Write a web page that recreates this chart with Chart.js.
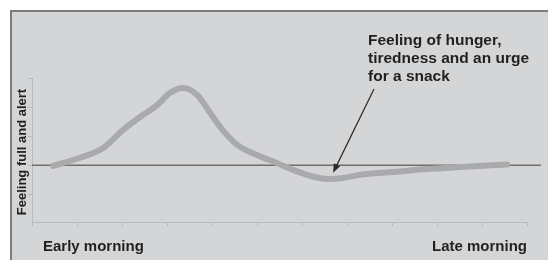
<!DOCTYPE html>
<html>
<head>
<meta charset="utf-8">
<script src="https://cdn.jsdelivr.net/npm/chart.js@4"></script>
<style>
  html, body { margin: 0; padding: 0; background: #fff; }
  #wrap { width: 548px; height: 260px; }
</style>
</head>
<body>
<div id="wrap"><canvas id="hungerChart" width="548" height="260"></canvas></div>
<script>
// данные кривой (x — время, y — самочувствие)
const timeX = [0.47, 0.91, 1.58, 2.02, 2.4, 2.78, 3.07, 3.36, 3.67, 3.96, 4.24, 4.56, 5.0, 5.44, 5.8, 6.56, 6.91, 7.29, 8.02, 8.78, 9.51, 10.56];
const feelingY = [-0.02, 0.18, 0.59, 1.21, 1.66, 2.07, 2.49, 2.66, 2.42, 1.8, 1.21, 0.7, 0.35, 0.08, -0.16, -0.47, -0.44, -0.33, -0.23, -0.13, -0.06, 0.03];

const yTitle = "Feeling full and alert";
const xStartLabel = "Early morning";
const xEndLabel = "Late morning";
const noteLines = ["Feeling of hunger,", "tiredness and an urge", "for a snack"];

// стрелка: откуда и куда (в единицах осей)
const arrowFrom = [7.6, 2.62];
const arrowTo = [6.69, -0.26];

const points = timeX.map((x, i) => ({ x, y: feelingY[i] }));

Chart.defaults.font.family = "'Liberation Sans', Arial, sans-serif";

const textColor = "#231f20";

// фон панели, нулевая линия, подписи и стрелка
const decorPlugin = {
  id: "decor",
  beforeDraw(chart) {
    const ctx = chart.ctx;
    ctx.save();
    ctx.fillStyle = "#fff";
    ctx.fillRect(0, 0, chart.width, chart.height);
    ctx.fillStyle = "#d4d5d7";
    ctx.fillRect(11, 11, chart.width - 11, chart.height - 11);
    ctx.strokeStyle = "#7d7d7d";
    ctx.lineWidth = 2;
    ctx.beginPath();
    ctx.moveTo(11, chart.height);
    ctx.lineTo(11, 11);
    ctx.lineTo(chart.width, 11);
    ctx.stroke();
    ctx.restore();
  },
  beforeDatasetsDraw(chart) {
    const ctx = chart.ctx;
    const y0 = chart.scales.y.getPixelForValue(0);
    ctx.save();
    ctx.strokeStyle = "#6f6f6f";
    ctx.lineWidth = 1.5;
    ctx.beginPath();
    ctx.moveTo(chart.chartArea.left, y0);
    ctx.lineTo(541, y0);
    ctx.stroke();
    ctx.restore();
  },
  afterDraw(chart) {
    const ctx = chart.ctx;
    const { left, right } = chart.chartArea;
    const xs = chart.scales.x;
    const ys = chart.scales.y;
    ctx.save();
    ctx.fillStyle = textColor;

    // подпись оси Y
    ctx.font = "bold 13px 'Liberation Sans', Arial, sans-serif";
    ctx.translate(22, 152);
    ctx.rotate(-Math.PI / 2);
    ctx.textAlign = "center";
    ctx.textBaseline = "middle";
    ctx.fillText(yTitle, 0, 0);
    ctx.setTransform(1, 0, 0, 1, 0, 0);

    // подписи оси X
    ctx.font = "bold 15px 'Liberation Sans', Arial, sans-serif";
    ctx.textBaseline = "alphabetic";
    ctx.textAlign = "left";
    ctx.fillText(xStartLabel, left + 11, 251);
    ctx.textAlign = "right";
    ctx.fillText(xEndLabel, right, 251);

    // текст пояснения
    ctx.font = "bold 15.5px 'Liberation Sans', Arial, sans-serif";
    ctx.textAlign = "left";
    noteLines.forEach((line, i) => {
      ctx.fillText(line, 368, 45 + i * 18);
    });

    // стрелка
    const x1 = xs.getPixelForValue(arrowFrom[0]);
    const y1 = ys.getPixelForValue(arrowFrom[1]);
    const x2 = xs.getPixelForValue(arrowTo[0]);
    const y2 = ys.getPixelForValue(arrowTo[1]);
    const ang = Math.atan2(y2 - y1, x2 - x1);
    const len = 9;
    const half = 3.5;
    ctx.strokeStyle = "#2a2a2a";
    ctx.lineWidth = 1.2;
    ctx.beginPath();
    ctx.moveTo(x1, y1);
    ctx.lineTo(x2 - Math.cos(ang) * len * 0.8, y2 - Math.sin(ang) * len * 0.8);
    ctx.stroke();
    ctx.fillStyle = "#2a2a2a";
    ctx.beginPath();
    ctx.moveTo(x2, y2);
    ctx.lineTo(x2 - Math.cos(ang) * len + Math.sin(ang) * half, y2 - Math.sin(ang) * len - Math.cos(ang) * half);
    ctx.lineTo(x2 - Math.cos(ang) * len - Math.sin(ang) * half, y2 - Math.sin(ang) * len + Math.cos(ang) * half);
    ctx.closePath();
    ctx.fill();
    ctx.restore();
  },
};

const axisColor = "#b9babc";

new Chart(hungerChart, {
  type: "line",
  data: {
    datasets: [
      {
        data: points,
        borderColor: "#a9aaac",
        borderWidth: 6,
        borderCapStyle: "round",
        borderJoinStyle: "round",
        cubicInterpolationMode: "monotone",
        pointRadius: 0,
        fill: false,
      },
    ],
  },
  options: {
    responsive: false,
    animation: false,
    layout: { padding: { left: 28, right: 21, top: 78, bottom: 34 } },
    plugins: { legend: { display: false }, tooltip: { enabled: false } },
    scales: {
      x: {
        type: "linear",
        min: 0,
        max: 11,
        ticks: { display: false, stepSize: 1 },
        grid: { drawOnChartArea: false, tickLength: 4, color: axisColor },
        border: { color: axisColor },
      },
      y: {
        min: -1.95,
        max: 3,
        ticks: { display: false, stepSize: 1, includeBounds: false },
        grid: { drawOnChartArea: false, tickLength: 4, color: axisColor },
        border: { color: axisColor },
      },
    },
  },
  plugins: [decorPlugin],
});
</script>
</body>
</html>
